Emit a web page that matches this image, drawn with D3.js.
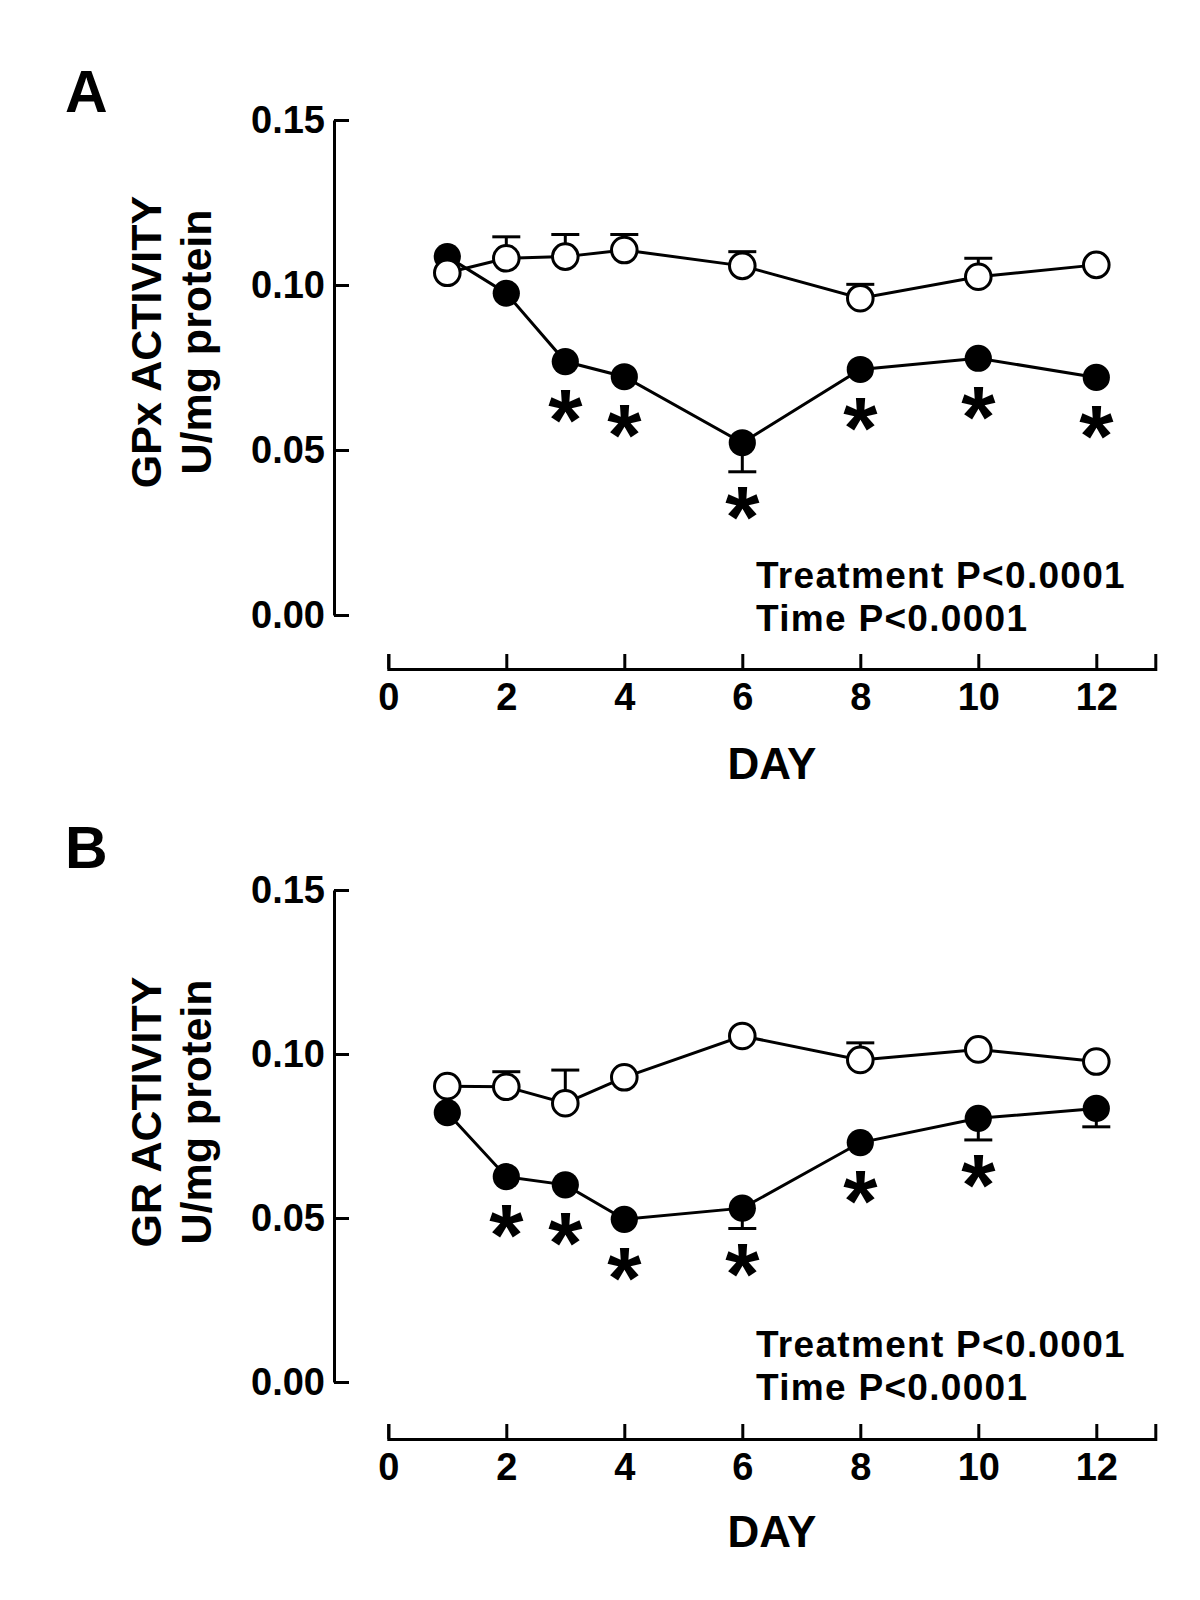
<!DOCTYPE html>
<html>
<head>
<meta charset="utf-8">
<script src="https://cdn.jsdelivr.net/npm/d3@7"></script>
<style>
  html, body { margin: 0; padding: 0; background: #fff; }
  svg { display: block; }
  text { font-family: "Liberation Sans", Arial, Helvetica, sans-serif; font-weight: bold; fill: #000; }
</style>
</head>
<body>
<svg id="chart" width="1200" height="1600"></svg>
<script>
// ---------------- DATA ----------------
const days = [1, 2, 3, 4, 6, 8, 10, 12];
const xTickValues = [0, 2, 4, 6, 8, 10, 12];
const yTickValues = [0.00, 0.05, 0.10, 0.15];

// Panel A: GPx activity (U/mg protein)
const gpxControl      = [0.1037, 0.1081, 0.1086, 0.1106, 0.1058, 0.0960, 0.1025, 0.1061];
const gpxControlErr   = [0, 0.0065, 0.0067, 0.0047, 0.0043, 0.0042, 0.0056, 0];
const gpxTreated      = [0.1086, 0.0975, 0.0768, 0.0722, 0.0522, 0.0744, 0.0778, 0.0720];
const gpxTreatedErr   = [0, 0, 0, 0, 0.0088, 0, 0, 0];
const gpxSignificant  = [false, false, true, true, true, true, true, true];

// Panel B: GR activity (U/mg protein)
const grControl       = [0.0902, 0.0900, 0.0850, 0.0929, 0.1055, 0.0982, 0.1014, 0.0977];
const grControlErr    = [0, 0.0046, 0.0101, 0, 0, 0.0052, 0, 0];
const grTreated       = [0.0821, 0.0626, 0.0601, 0.0496, 0.0530, 0.0730, 0.0804, 0.0834];
const grTreatedErr    = [0, 0, 0, 0, 0.0062, 0, 0.0066, 0.0056];
const grSignificant   = [false, true, true, true, true, true, true, false];

const panelLetters = ["A", "B"];
const yTitles = [["GPx ACTIVITY", "U/mg protein"], ["GR ACTIVITY", "U/mg protein"]];
const statsLines = ["Treatment P<0.0001", "Time P<0.0001"];
const xTitle = "DAY";

// ---------------- DRAWING ----------------
const svg = d3.select("#chart");

const panels = [
  { letter: panelLetters[0], title: yTitles[0], control: gpxControl, controlErr: gpxControlErr,
    treated: gpxTreated, treatedErr: gpxTreatedErr, sig: gpxSignificant,
    yRange: [615, 120], xAxisY: 669, letterY: 112, statsY: 588, dayY: 779, titleCY: 342 },
  { letter: panelLetters[1], title: yTitles[1], control: grControl, controlErr: grControlErr,
    treated: grTreated, treatedErr: grTreatedErr, sig: grSignificant,
    yRange: [1382, 890], xAxisY: 1439, letterY: 868, statsY: 1357, dayY: 1547, titleCY: 1112 }
];

const yAxisX = 334;
const x = d3.scaleLinear().domain([0, 13]).range([388.3, 1155.3]);

panels.forEach(p => {
  const y = d3.scaleLinear().domain([0, 0.15]).range(p.yRange);
  const g = svg.append("g");

  // panel letter
  g.append("text").attr("x", 65).attr("y", p.letterY)
    .attr("font-size", 59).text(p.letter);

  // y axis
  const yAxis = d3.axisLeft(y).tickValues(yTickValues).tickFormat(d3.format(".2f"))
    .tickSizeInner(-15).tickSizeOuter(0).tickPadding(9);
  const ya = g.append("g").attr("transform", `translate(${yAxisX},0)`).call(yAxis);
  ya.selectAll("path, line").attr("stroke", "#000").attr("stroke-width", 3);
  ya.selectAll("text").attr("font-size", 38).attr("fill", "#000");
  ya.attr("font-family", null).attr("font-size", null);

  // x axis
  const xAxis = d3.axisBottom(x).tickValues(xTickValues).tickFormat(d3.format("d"))
    .tickSizeInner(-15).tickSizeOuter(-15).tickPadding(14);
  const xa = g.append("g").attr("transform", `translate(0,${p.xAxisY})`).call(xAxis);
  xa.selectAll("path, line").attr("stroke", "#000").attr("stroke-width", 3);
  xa.selectAll("text").attr("font-size", 38).attr("fill", "#000");
  xa.attr("font-family", null).attr("font-size", null);

  // axis titles
  g.append("text").attr("transform", `translate(161,${p.titleCY}) rotate(-90)`)
    .attr("text-anchor", "middle").attr("font-size", 43).text(p.title[0]);
  g.append("text").attr("transform", `translate(211,${p.titleCY}) rotate(-90)`)
    .attr("text-anchor", "middle").attr("font-size", 43).text(p.title[1]);
  g.append("text").attr("x", 772).attr("y", p.dayY).attr("text-anchor", "middle")
    .attr("font-size", 44).text(xTitle);

  // stats text
  statsLines.forEach((s, i) => {
    g.append("text").attr("x", 756).attr("y", p.statsY + i * 43)
      .attr("font-size", 37).attr("letter-spacing", 1.3).text(s);
  });

  const line = d3.line().x(d => x(d.day)).y(d => y(d.v));
  const ctrl = days.map((d, i) => ({ day: d, v: p.control[i], e: p.controlErr[i] }));
  const trt = days.map((d, i) => ({ day: d, v: p.treated[i], e: p.treatedErr[i], s: p.sig[i] }));

  // lines
  [trt, ctrl].forEach(series => {
    g.append("path").datum(series).attr("d", line)
      .attr("fill", "none").attr("stroke", "#000").attr("stroke-width", 3);
  });

  // error bars: control upward, treated downward
  const errG = g.append("g").attr("stroke", "#000").attr("stroke-width", 3);
  ctrl.filter(d => d.e > 0).forEach(d => {
    errG.append("line").attr("x1", x(d.day)).attr("x2", x(d.day)).attr("y1", y(d.v)).attr("y2", y(d.v + d.e));
    errG.append("line").attr("x1", x(d.day) - 14).attr("x2", x(d.day) + 14).attr("y1", y(d.v + d.e)).attr("y2", y(d.v + d.e));
  });
  trt.filter(d => d.e > 0).forEach(d => {
    errG.append("line").attr("x1", x(d.day)).attr("x2", x(d.day)).attr("y1", y(d.v)).attr("y2", y(d.v - d.e));
    errG.append("line").attr("x1", x(d.day) - 14).attr("x2", x(d.day) + 14).attr("y1", y(d.v - d.e)).attr("y2", y(d.v - d.e));
  });

  // points
  g.selectAll(null).data(trt).enter().append("circle")
    .attr("cx", d => x(d.day)).attr("cy", d => y(d.v)).attr("r", 13.6).attr("fill", "#000");
  g.selectAll(null).data(ctrl).enter().append("circle")
    .attr("cx", d => x(d.day)).attr("cy", d => y(d.v)).attr("r", 12.8)
    .attr("fill", "#fff").attr("stroke", "#000").attr("stroke-width", 3);

  // significance asterisks
  const astSize = 88;
  g.selectAll(null).data(trt.filter(d => d.s)).enter().append("text")
    .attr("x", d => x(d.day)).attr("text-anchor", "middle").attr("font-size", astSize)
    .attr("y", d => Math.max(y(d.v) + 46, y(d.v - d.e) + 33) + 0.48 * astSize)
    .text("*");
});
</script>
</body>
</html>
